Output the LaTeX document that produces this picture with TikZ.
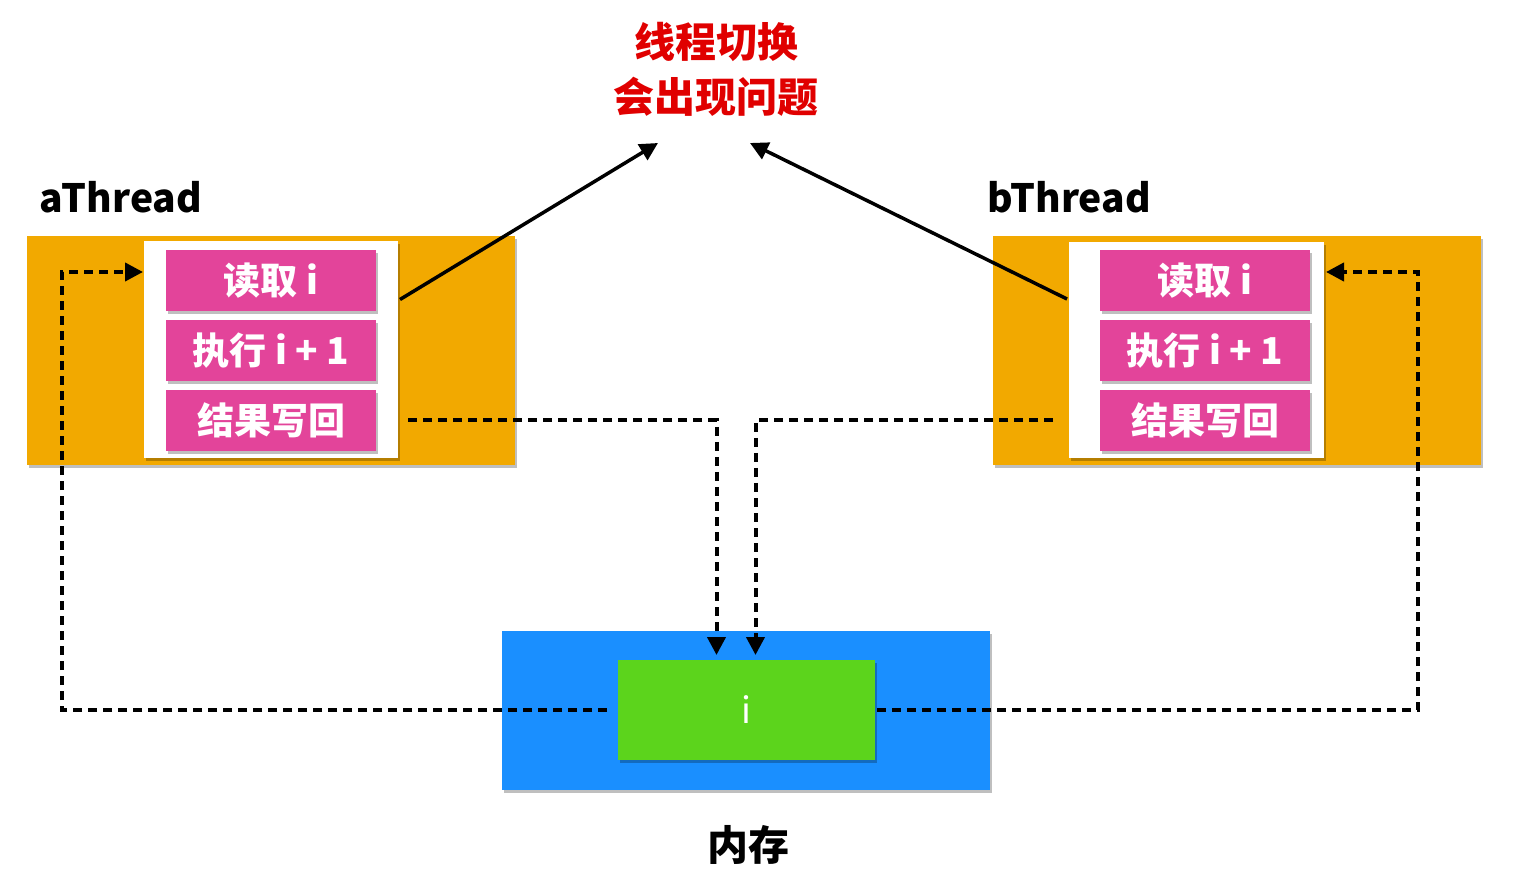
\documentclass[tikz,border=0pt]{standalone}
\usepackage{fontspec}
\setmainfont{Noto Sans CJK SC}
\usetikzlibrary{arrows.meta,positioning,shadows,calc}
\definecolor{thread}{HTML}{F2A900}
\definecolor{step}{HTML}{E3449A}
\definecolor{memory}{HTML}{1A8FFF}
\definecolor{cell}{HTML}{5CD41C}
\definecolor{alarm}{HTML}{E00000}

\begin{document}
\begin{tikzpicture}[
  x=1pt, y=-1pt,
  font=\bfseries,
  shade/.style={drop shadow={shadow xshift=2pt, shadow yshift=-3pt, opacity=0.25, fill=black}},
  box/.style={inner sep=0pt, outer sep=0pt, shade},
  stepbox/.style={box, fill=step, text=white, minimum width=210pt, minimum height=61pt, font=\bfseries\fontsize{37}{40}\selectfont},
  arr/.style={-{Triangle[length=18pt, width=18pt]}, line width=3.5pt},
  dashline/.style={arr, line width=4pt, dash pattern=on 9pt off 6pt},
  lbl/.style={font=\bfseries\fontsize{39}{44}\selectfont}
]
\useasboundingbox (0,0) rectangle (1516,882);

% Title
\node[lbl, text=alarm, align=center, font=\bfseries\fontsize{41}{55}\selectfont] (title) at (716,69) {线程切换\\会出现问题};

% aThread
\node[lbl, anchor=west] (alab) at (36,197) {aThread};
\node[box, fill=thread, minimum width=488pt, minimum height=229pt] (at) at (271,350.5) {};
\node[box, fill=white, minimum width=254pt, minimum height=217pt] (aw) at (271,349.5) {};
\node[stepbox] (ar) at (271,280.5) {读取 i};
\node[stepbox] (ae) at (271,350.5) {执行 i + 1};
\node[stepbox] (awb) at (271,420.5) {结果写回};

% bThread
\node[lbl, anchor=west] (blab) at (984,197) {bThread};
\node[box, fill=thread, minimum width=488pt, minimum height=229pt] (bt) at (1237,350.5) {};
\node[box, fill=white, minimum width=255pt, minimum height=216pt] (bw) at (1196.5,350) {};
\node[stepbox] (br) at (1205,280.5) {读取 i};
\node[stepbox] (be) at (1205,350.5) {执行 i + 1};
\node[stepbox] (bwb) at (1205,420.5) {结果写回};

% Memory
\node[box, fill=memory, minimum width=488pt, minimum height=159pt] (mem) at (746,710.5) {};
\node[box, fill=cell, text=white, minimum width=257pt, minimum height=100pt, font=\fontsize{36}{40}\selectfont] (val) at (746.5,710) {i};
\node[lbl, font=\bfseries\fontsize{41}{44}\selectfont] (mlab) at (748,845) {内存};

\coordinate (aIn) at (143,272);
\coordinate (bIn) at (1326,272);
\coordinate (topL) at (658,143);
\coordinate (topR) at (750,143);

% Flows
\draw[arr] ($(aw.east)+(2,-50)$) -- (topL);
\draw[arr] ($(bw.west)+(-2,-51)$) -- (topR);
\draw[dashline] ($(aw.east|-awb.east)+(10,0)$) -| ([xshift=-30pt, yshift=5pt]val.north);
\draw[dashline] ($(bw.west|-bwb.west)+(-16,0)$) -| ([xshift=9pt, yshift=5pt]val.north);
\draw[dashline] ([xshift=-11pt]val.west) -| ([xshift=-81pt]aIn) -- (aIn);
\draw[dashline] ([xshift=2pt]val.east) -| ([xshift=92pt]bIn) -- (bIn);
\end{tikzpicture}
\end{document}
